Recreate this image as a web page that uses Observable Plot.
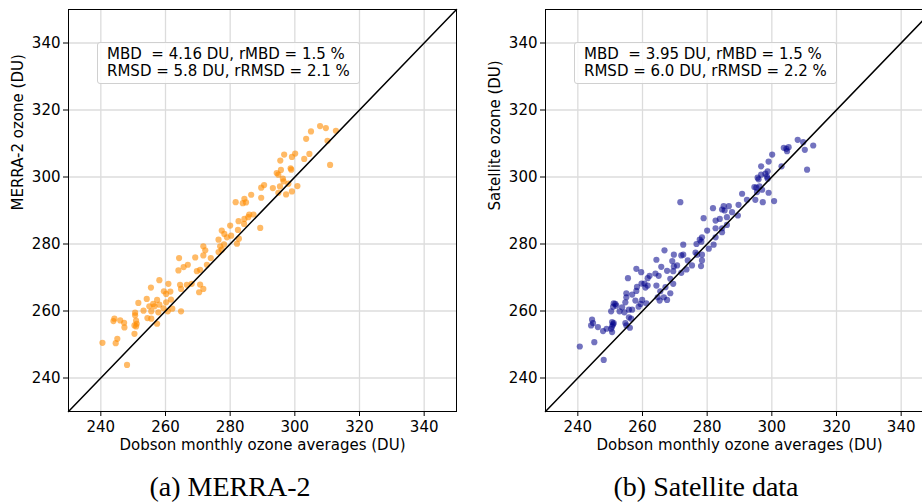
<!DOCTYPE html>
<html><head><meta charset="utf-8">
<script src="https://cdn.jsdelivr.net/npm/d3@7"></script>
<script src="https://cdn.jsdelivr.net/npm/@observablehq/plot@0.6"></script>
<style>
body{margin:0;width:922px;height:504px;overflow:hidden;background:#fff;position:relative;font-family:"DejaVu Sans",sans-serif;}
.panel{position:absolute;top:0;width:470px;height:460px;}
.panel svg{max-width:none !important;}
.box{position:absolute;top:42px;white-space:pre;font-size:15px;line-height:17px;padding:3px 9px;border:1px solid #d0d0d0;border-radius:3px;background:rgba(255,255,255,0.85);color:#000;}
.cap{position:absolute;top:473px;font-family:"Liberation Serif",serif;font-size:28px;line-height:28px;transform:translateX(-50%);white-space:nowrap;color:#000;}
</style></head><body>
<div id="pa" class="panel" style="left:0px"></div>
<div id="pb" class="panel" style="left:477px"></div>
<div id="boxa" class="box" style="left:97px"></div>
<div id="boxb" class="box" style="left:574px"></div>
<div id="capa" class="cap" style="left:230px"></div>
<div id="capb" class="cap" style="left:706px"></div>
<script>
// ---- data ----
const dobsonA = [264.2,269.2,266.9,265.6,264.0,269.7,258.1,260.9,264.5,266.6,264.8,268.1,255.5,259.5,260.2,261.5,261.7,260.2,257.4,256.2,254.2,251.6,255.0,256.6,258.1,259.4,253.2,255.6,257.8,260.7,262.1,264.8,250.6,250.6,244.2,246.0,247.2,250.9,251.1,250.9,250.4,254.4,255.6,243.9,247.3,257.4,250.4,245.1,244.6,240.5,248.1,
271.7,270.4,270.7,
290.5,289.6,289.6,286.5,281.7,283.9,284.4,284.9,282.6,284.4,285.9,287.2,285.6,280.0,284.3,282.4,289.3,277.4,278.2,280.3,279.0,276.4,282.7,282.1,278.1,276.9,277.4,276.4,271.7,272.3,271.7,274.0,272.8,270.7,
307.8,309.6,312.7,305.0,303.5,310.1,296.7,295.5,300.1,299.1,302.9,304.5,310.9,295.7,294.4,294.9,298.7,298.9,296.3,296.5,293.2,295.4,298.0,300.8,294.9,297.3,299.1];
const merra2 = [275.8,276.0,273.8,273.1,272.1,271.9,269.2,268.1,267.8,267.8,266.6,268.1,267.0,265.9,265.1,265.8,263.4,262.6,263.3,262.1,263.6,262.4,261.4,261.4,261.9,260.8,260.1,259.9,259.6,259.9,260.7,259.9,259.5,258.7,257.7,257.2,256.5,257.1,256.2,255.4,255.7,257.9,257.7,257.0,255.1,256.2,253.2,251.7,250.4,250.5,243.9,
266.6,265.6,267.9,
297.6,296.8,293.8,294.7,292.5,292.2,293.5,292.4,286.8,287.5,288.8,288.8,288.0,285.5,286.0,284.2,284.8,284.0,283.0,282.5,282.0,281.3,281.6,280.1,279.9,279.3,278.3,277.6,279.3,278.1,276.6,275.8,273.8,272.3,
315.2,314.6,313.8,313.6,311.4,310.8,306.7,304.9,307.0,306.0,305.4,306.9,303.6,302.1,301.2,300.7,302.6,302.2,299.5,298.7,296.7,297.2,298.0,297.3,295.3,294.8,295.7];

const dobsonB = [264.3,258.1,259.6,269.2,269.7,269.5,265.8,267.6,264.0,265.0,262.2,261.6,260.6,259.7,258.3,258.1,260.9,261.6,255.5,268.6,269.5,267.1,265.5,264.3,264.7,268.6,265.3,266.6,267.6,255.0,255.0,256.8,257.8,259.9,259.4,261.2,258.8,251.1,251.6,250.9,251.9,254.7,253.7,252.9,254.4,255.8,256.8,250.3,255.8,256.5,254.7,255.0,256.1,250.6,250.9,250.6,250.3,251.1,244.4,244.7,244.1,246.2,247.8,248.9,250.6,245.1,240.6,248.0,
289.7,289.5,286.7,285.1,284.6,285.4,287.7,286.1,281.8,278.9,282.6,283.9,286.1,284.6,282.6,280.0,282.6,284.6,278.4,277.7,276.7,278.2,282.0,280.5,272.6,276.4,276.9,266.8,269.7,272.0,272.6,270.7,274.0,278.4,278.4,275.3,278.1,271.7,272.0,273.6,
308.0,309.7,312.8,303.7,304.5,305.2,304.7,310.2,300.1,299.0,296.7,303.0,310.9,298.7,298.0,296.7,295.6,295.9,298.5,298.7,294.6,295.2,296.2,297.0,290.8,295.4,299.0,292.3,294.9,297.2,300.7];
const satellite = [275.3,272.6,271.6,274.9,273.3,271.9,273.2,272.0,271.2,270.5,270.5,269.8,268.2,268.2,267.2,266.0,267.0,267.6,269.8,269.6,268.1,267.1,265.9,267.6,264.1,265.3,263.1,264.1,263.3,265.3,264.1,264.9,263.1,263.3,262.1,262.3,261.3,262.3,262.1,261.3,261.6,262.6,261.1,259.9,259.6,260.4,260.4,259.9,258.1,257.7,256.4,255.7,255.0,256.7,256.0,255.4,254.7,256.4,257.4,256.4,255.7,255.2,254.0,254.7,253.7,250.7,249.4,245.4,
291.7,288.5,291.3,291.3,290.3,290.0,289.5,288.0,290.7,287.7,287.0,287.5,285.7,284.7,284.7,284.0,282.0,283.5,282.0,281.3,280.0,280.7,279.8,278.6,279.8,277.4,276.8,278.1,276.8,276.6,276.8,273.6,275.1,276.8,275.1,273.6,273.4,292.5,271.4,272.4,
311.1,310.4,309.4,308.7,308.4,308.9,307.7,308.1,306.7,304.6,303.2,303.2,302.2,301.7,301.0,300.7,299.8,299.3,300.1,299.5,297.0,296.8,297.2,296.2,295.0,295.5,295.3,293.2,293.2,292.5,292.8];

const axisDomain = [230, 350];
const ticks = [240, 260, 280, 300, 320, 340];
const xLabel = "Dobson monthly ozone averages (DU)";
const yLabels = ["MERRA-2 ozone (DU)", "Satellite ozone (DU)"];
const stats = [
  "MBD\u00a0 = 4.16 DU, rMBD = 1.5 %\nRMSD = 5.8 DU, rRMSD = 2.1 %",
  "MBD\u00a0 = 3.95 DU, rMBD = 1.5 %\nRMSD = 6.0 DU, rRMSD = 2.2 %"
];
const captions = ["(a) MERRA-2", "(b) Satellite data"];
const colors = ["#ff8c00", "#00008b"];

function panel(xs, ys, yLabel, color, opacity) {
  const pts = xs.map((x, i) => ({x, y: ys[i]}));
  return Plot.plot({
    width: 470, height: 460,
    marginTop: 9, marginLeft: 68, marginRight: 14, marginBottom: 49,
    style: {fontSize: "15px", fontFamily: "DejaVu Sans, sans-serif", background: "transparent", color: "#000", overflow: "visible", maxWidth: "none"},
    x: {domain: axisDomain, ticks: ticks},
    y: {domain: axisDomain, ticks: ticks},
    marks: [
      Plot.gridX(ticks, {stroke: "#dcdcdc", strokeOpacity: 1, strokeWidth: 1.3}),
      Plot.gridY(ticks, {stroke: "#dcdcdc", strokeOpacity: 1, strokeWidth: 1.3}),
      Plot.axisX(ticks, {tickSize: 5, tickPadding: 5, label: null, fontSize: 15}),
      Plot.axisY(ticks, {tickSize: 5, tickPadding: 3, label: null, fontSize: 15}),
      Plot.dot(pts, {x: "x", y: "y", r: 3.1, fill: color, fillOpacity: opacity, stroke: "none"}),
      Plot.line(axisDomain, {x: d => d, y: d => d, stroke: "#000", strokeWidth: 1.5}),
      Plot.frame({stroke: "#000", strokeWidth: 1}),
      Plot.text([xLabel], {text: d => d, frameAnchor: "bottom", dy: 38, fontSize: 15}),
      Plot.text([yLabel], {text: d => d, frameAnchor: "left", dx: -50, rotate: -90, fontSize: 15})
    ]
  });
}

document.getElementById("pa").append(panel(dobsonA, merra2, yLabels[0], colors[0], 0.6));
document.getElementById("pb").append(panel(dobsonB, satellite, yLabels[1], colors[1], 0.55));
document.getElementById("boxa").textContent = stats[0];
document.getElementById("boxb").textContent = stats[1];
document.getElementById("capa").textContent = captions[0];
document.getElementById("capb").textContent = captions[1];
</script>
</body></html>
